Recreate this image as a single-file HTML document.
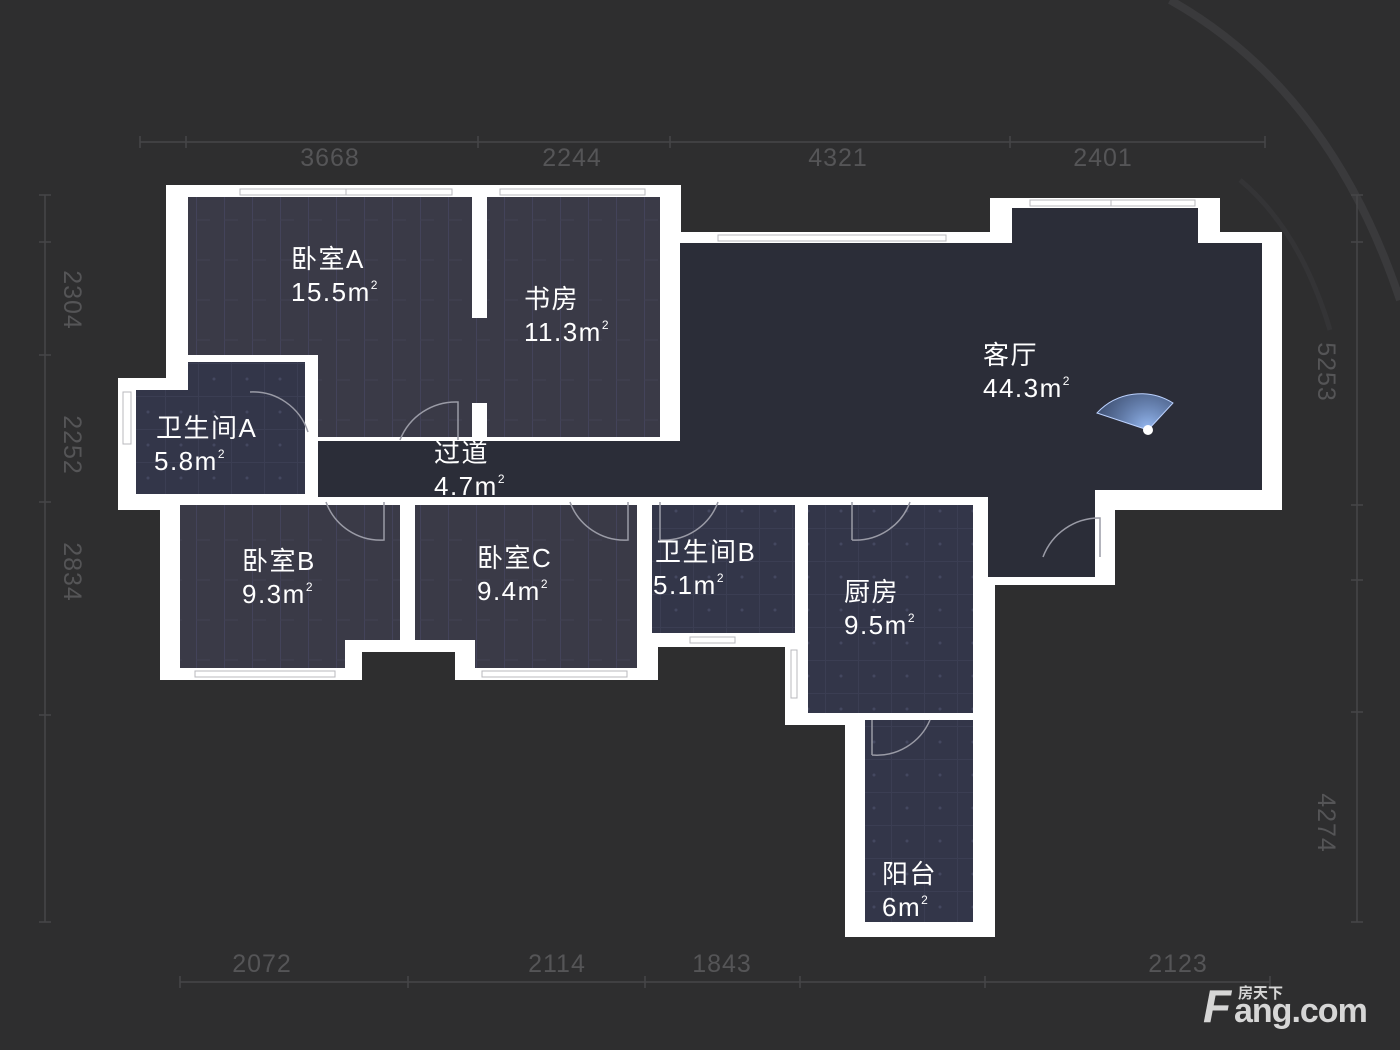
<!DOCTYPE html>
<html><head><meta charset="utf-8"><style>
html,body{margin:0;padding:0;background:#2e2e2f;}
svg{display:block}
text{font-family:"Liberation Sans","Noto Sans CJK SC",sans-serif;}
</style></head><body>
<svg width="1400" height="1050" viewBox="0 0 1400 1050" xmlns="http://www.w3.org/2000/svg">
<defs>
<radialGradient id="cone" cx="1148" cy="430" r="80" gradientUnits="userSpaceOnUse">
<stop offset="0" stop-color="#9fc4ff" stop-opacity="0.95"/>
<stop offset="1" stop-color="#3a5d9c" stop-opacity="0.2"/>
</radialGradient>
<pattern id="boards" width="28" height="40" patternUnits="userSpaceOnUse">
<rect width="28" height="40" fill="#3a3a47"/>
<line x1="0.5" y1="0" x2="0.5" y2="40" stroke="#43435a" stroke-width="1"/>
<line x1="0" y1="20" x2="14" y2="20" stroke="#414153" stroke-width="1"/>
</pattern>
<pattern id="tiles" width="33" height="33" patternUnits="userSpaceOnUse">
<rect width="33" height="33" fill="#333649"/>
<line x1="0" y1="0.5" x2="33" y2="0.5" stroke="#3b3e53" stroke-width="1"/>
<line x1="0.5" y1="0" x2="0.5" y2="33" stroke="#3b3e53" stroke-width="1"/>
<circle cx="16" cy="16" r="1.5" fill="#444860"/>
</pattern>
</defs>
<rect width="1400" height="1050" fill="#2e2e2f"/>
<!-- faint arc -->
<path d="M1170 0 Q1330 90 1400 300" fill="none" stroke="#3a3a3c" stroke-width="8"/>
<path d="M1240 180 Q1300 230 1330 330" fill="none" stroke="#343436" stroke-width="5"/>

<!-- dimension lines -->
<g stroke="#464648" stroke-width="1.5" fill="none">
<line x1="140" y1="142" x2="1265" y2="142"/>
<line x1="140" y1="136" x2="140" y2="148"/><line x1="186" y1="136" x2="186" y2="148"/><line x1="478" y1="136" x2="478" y2="148"/><line x1="670" y1="136" x2="670" y2="148"/><line x1="1010" y1="136" x2="1010" y2="148"/><line x1="1265" y1="136" x2="1265" y2="148"/>
<line x1="180" y1="982" x2="1270" y2="982"/>
<line x1="180" y1="976" x2="180" y2="988"/><line x1="408" y1="976" x2="408" y2="988"/><line x1="645" y1="976" x2="645" y2="988"/><line x1="800" y1="976" x2="800" y2="988"/><line x1="985" y1="976" x2="985" y2="988"/><line x1="1270" y1="976" x2="1270" y2="988"/>
<line x1="45" y1="195" x2="45" y2="922"/>
<line x1="39" y1="195" x2="51" y2="195"/><line x1="39" y1="242" x2="51" y2="242"/><line x1="39" y1="355" x2="51" y2="355"/><line x1="39" y1="502" x2="51" y2="502"/><line x1="39" y1="715" x2="51" y2="715"/><line x1="39" y1="922" x2="51" y2="922"/>
<line x1="1357" y1="195" x2="1357" y2="922"/>
<line x1="1351" y1="195" x2="1363" y2="195"/><line x1="1351" y1="242" x2="1363" y2="242"/><line x1="1351" y1="505" x2="1363" y2="505"/><line x1="1351" y1="580" x2="1363" y2="580"/><line x1="1351" y1="712" x2="1363" y2="712"/><line x1="1351" y1="922" x2="1363" y2="922"/>
</g>
<g fill="#555557" font-size="25" text-anchor="middle" letter-spacing="1">
<text x="330" y="166">3668</text><text x="572" y="166">2244</text><text x="838" y="166">4321</text><text x="1103" y="166">2401</text>
<text x="262" y="972">2072</text><text x="557" y="972">2114</text><text x="722" y="972">1843</text><text x="1178" y="972">2123</text>
<text transform="translate(64,300) rotate(90)">2304</text>
<text transform="translate(64,445) rotate(90)">2252</text>
<text transform="translate(64,572) rotate(90)">2834</text>
<text transform="translate(1318,372) rotate(90)">5253</text>
<text transform="translate(1318,823) rotate(90)">4274</text>
</g>

<!-- walls (white base) -->
<g fill="#ffffff">
<rect x="166" y="185" width="515" height="265"/>
<rect x="118" y="378" width="200" height="132"/>
<rect x="160" y="495" width="500" height="185"/>
<rect x="310" y="430" width="380" height="80"/>
<rect x="660" y="232" width="622" height="278"/>
<rect x="990" y="198" width="230" height="50"/>
<rect x="640" y="495" width="355" height="152"/>
<rect x="785" y="495" width="210" height="230"/>
<rect x="845" y="700" width="150" height="237"/>
<rect x="975" y="495" width="140" height="90"/>
</g>

<!-- rooms -->
<path d="M188 197 H472 V437 H318 V355 H188 Z" fill="url(#boards)"/>
<rect x="487" y="197" width="173" height="240" fill="url(#boards)"/>
<path d="M188 362 H305 V494 H136 V390 H188 Z" fill="url(#tiles)"/>
<rect x="318" y="441" width="680" height="56" fill="#2b2d38"/>
<path d="M680 243 H1012 V208 H1198 V243 H1262 V490 H1095 V577 H988 V497 H680 Z" fill="#2b2d38"/>
<rect x="180" y="505" width="220" height="163" fill="url(#boards)"/>
<rect x="415" y="505" width="222" height="163" fill="url(#boards)"/>
<rect x="362" y="652" width="93" height="30" fill="#2e2e2f"/>
<rect x="345" y="640" width="130" height="12" fill="#fff"/>
<rect x="345" y="640" width="17" height="40" fill="#fff"/>
<rect x="455" y="640" width="20" height="40" fill="#fff"/>
<rect x="652" y="505" width="143" height="128" fill="url(#tiles)"/>
<rect x="808" y="505" width="165" height="208" fill="url(#tiles)"/>
<rect x="865" y="720" width="108" height="202" fill="url(#tiles)"/>
<rect x="658" y="647" width="127" height="50" fill="#2e2e2f"/>
<rect x="640" y="633" width="155" height="14" fill="#fff"/>
<rect x="640" y="633" width="18" height="47" fill="#fff"/>

<!-- windows -->
<g fill="#ffffff" stroke="#b8b8be" stroke-width="1">
<rect x="240" y="189" width="212" height="6"/>
<rect x="500" y="189" width="145" height="6"/>
<rect x="718" y="235" width="228" height="6"/>
<rect x="1030" y="200" width="165" height="6"/>
<rect x="123" y="392" width="8" height="52"/>
<rect x="195" y="671" width="140" height="6"/>
<rect x="482" y="671" width="145" height="6"/>
<rect x="690" y="637" width="45" height="6"/>
<rect x="791" y="650" width="6" height="48"/>
</g>
<g stroke="#b8b8be" stroke-width="1">
<line x1="346" y1="189" x2="346" y2="195"/>
<line x1="1111" y1="200" x2="1111" y2="206"/>
</g>

<!-- door swings -->
<g fill="none" stroke="#9a9ba6" stroke-width="1.5">
<path d="M400 440 A60 60 0 0 1 458 402 V440"/>
<path d="M250 392 A58 58 0 0 1 308 432"/>
<path d="M326 502 A58 58 0 0 0 384 540 V502"/>
<path d="M570 502 A58 58 0 0 0 628 540 V502"/>
<path d="M660 540 A58 58 0 0 0 718 502 M660 502 V540"/>
<path d="M852 540 A58 58 0 0 0 910 502 M852 502 V540"/>
<path d="M872 755 A58 58 0 0 0 930 720 M872 720 V755"/>
<path d="M1043 557 A60 60 0 0 1 1100 518 V557"/>
</g>
<rect x="472" y="318" width="15" height="85" fill="url(#boards)"/>

<!-- view cone -->
<path d="M1148 430 L1097 413 A60 60 0 0 1 1173 403 Z" fill="url(#cone)" stroke="#bcd2ff" stroke-width="1"/>
<circle cx="1148" cy="430" r="5" fill="#fff"/>

<!-- labels -->
<g fill="#ffffff" font-size="26" letter-spacing="1.5">
<text x="291" y="268">卧室A</text><text x="291" y="301">15.5m<tspan font-size="12" dy="-12">2</tspan></text>
<text x="524" y="308">书房</text><text x="524" y="341">11.3m<tspan font-size="12" dy="-12">2</tspan></text>
<text x="156" y="437">卫生间A</text><text x="154" y="470">5.8m<tspan font-size="12" dy="-12">2</tspan></text>
<text x="434" y="462">过道</text><text x="434" y="495">4.7m<tspan font-size="12" dy="-12">2</tspan></text>
<text x="983" y="364">客厅</text><text x="983" y="397">44.3m<tspan font-size="12" dy="-12">2</tspan></text>
<text x="242" y="570">卧室B</text><text x="242" y="603">9.3m<tspan font-size="12" dy="-12">2</tspan></text>
<text x="477" y="567">卧室C</text><text x="477" y="600">9.4m<tspan font-size="12" dy="-12">2</tspan></text>
<text x="655" y="561">卫生间B</text><text x="653" y="594">5.1m<tspan font-size="12" dy="-12">2</tspan></text>
<text x="844" y="601">厨房</text><text x="844" y="634">9.5m<tspan font-size="12" dy="-12">2</tspan></text>
<text x="882" y="883">阳台</text><text x="882" y="916">6m<tspan font-size="12" dy="-12">2</tspan></text>
</g>

<!-- logo -->
<g fill="#d6d6d6" font-weight="bold">
<text x="1203" y="1022" font-size="46" font-style="italic">F</text>
<text x="1234" y="1022" font-size="34" letter-spacing="-1">ang.com</text>
<text x="1238" y="998" font-size="15">房天下</text>
</g>
</svg>
</body></html>
